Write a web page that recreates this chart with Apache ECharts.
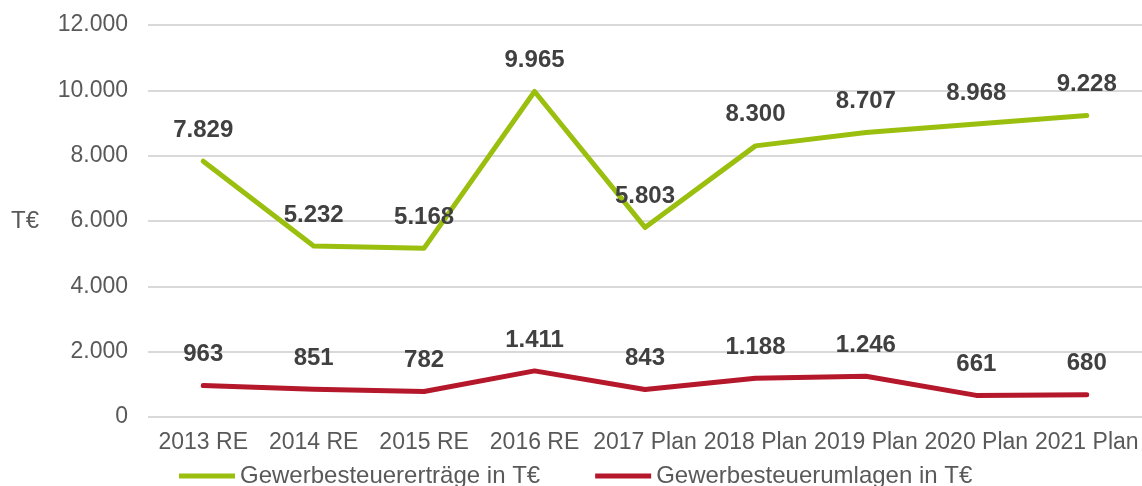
<!DOCTYPE html>
<html>
<head>
<meta charset="utf-8">
<script src="https://cdn.jsdelivr.net/npm/echarts@6/dist/echarts.min.js"></script>
<style>
html, body { margin: 0; padding: 0; background: #fff; }
#main { width: 1142px; height: 486px; }
</style>
</head>
<body>
<div id="main"></div>
<script>
var categories = ['2013 RE', '2014 RE', '2015 RE', '2016 RE', '2017 Plan', '2018 Plan', '2019 Plan', '2020 Plan', '2021 Plan'];
var ertraege = [7829, 5232, 5168, 9965, 5803, 8300, 8707, 8968, 9228];
var umlagen = [963, 851, 782, 1411, 843, 1188, 1246, 661, 680];
var seriesNames = ['Gewerbesteuererträge in T€', 'Gewerbesteuerumlagen in T€'];

var fontName = '"Liberation Sans", Arial, sans-serif';

function fmt(v) {
    return v.toLocaleString('de-DE');
}

function lineSeries(name, data, color) {
    return {
        name: name,
        type: 'line',
        data: data,
        symbol: 'circle',
        symbolSize: 2,
        showSymbol: true,
        color: color,
        lineStyle: { width: 5, cap: 'round', join: 'round' },
        label: {
            show: true,
            position: 'top',
            distance: 18,
            fontSize: 24,
            fontWeight: 'bold',
            color: '#404040',
            formatter: function (p) { return fmt(p.value); }
        },
        labelLayout: { hideOverlap: false }
    };
}

var myChart = echarts.init(document.getElementById('main'));
var option = {
    animation: false,
    textStyle: { fontFamily: fontName },
    grid: {
        left: 148,
        right: 0,
        top: 25,
        bottom: 69
    },
    legend: {
        data: seriesNames,
        left: 179,
        top: 464,
        padding: 0,
        icon: 'rect',
        itemWidth: 56,
        itemHeight: 5,
        itemGap: 55,
        textStyle: { fontSize: 24, color: '#595959', fontFamily: fontName }
    },
    xAxis: {
        type: 'category',
        data: categories,
        boundaryGap: true,
        axisLine: { show: false },
        axisTick: { show: false },
        axisLabel: {
            interval: 0,
            fontSize: 23,
            color: '#595959',
            margin: 14
        }
    },
    yAxis: {
        type: 'value',
        min: 0,
        max: 12000,
        interval: 2000,
        name: 'T€',
        nameLocation: 'middle',
        nameRotate: 0,
        nameGap: 109,
        nameTextStyle: { fontSize: 24, color: '#595959', padding: [6, 0, 0, 0] },
        axisLabel: {
            fontSize: 23,
            color: '#595959',
            margin: 20,
            formatter: function (v) { return fmt(v); }
        },
        splitLine: { lineStyle: { color: '#d9d9d9', width: 2 } }
    },
    series: [
        lineSeries(seriesNames[0], ertraege, '#9bbf0f'),
        lineSeries(seriesNames[1], umlagen, '#b5172b')
    ]
};
myChart.setOption(option);
</script>
</body>
</html>
